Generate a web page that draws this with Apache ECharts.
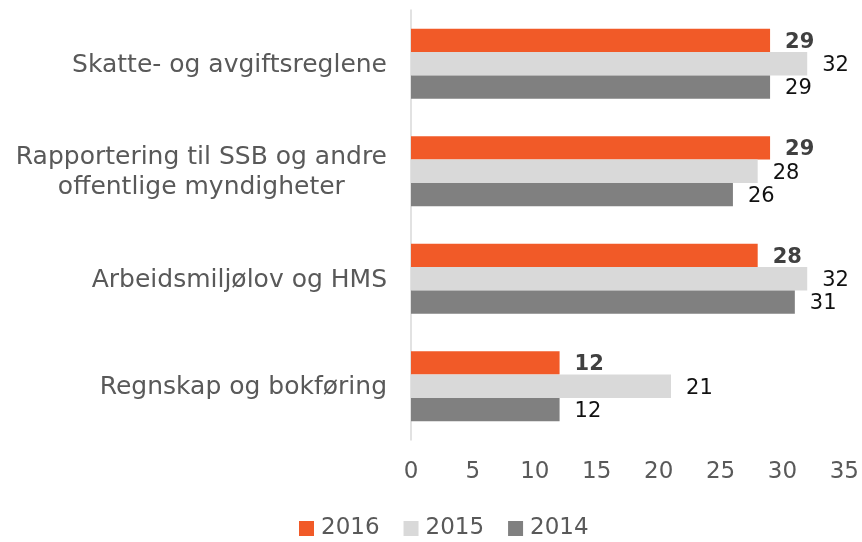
<!DOCTYPE html>
<html>
<head>
<meta charset="utf-8">
<script src="https://cdn.jsdelivr.net/npm/echarts@6/dist/echarts.min.js"></script>
<style>
  html, body { margin: 0; padding: 0; background: #fff; }
  #chart { width: 862px; height: 542px; }
</style>
</head>
<body>
<div id="chart"></div>
<script>
const categories = [
  "Skatte- og avgiftsreglene",
  "Rapportering til SSB og andre\noffentlige myndigheter",
  "Arbeidsmiljølov og HMS",
  "Regnskap og bokføring"
];
const values2016 = [29, 29, 28, 12];
const values2015 = [32, 28, 32, 21];
const values2014 = [29, 26, 31, 12];
const xTicks = { min: 0, max: 35, interval: 5 };

const font = "'DejaVu Sans', sans-serif";
const chart = echarts.init(document.getElementById("chart"));

function barSeries(name, data, color, bold) {
  return {
    name,
    type: "bar",
    data,
    barGap: "0%",
    barCategoryGap: "35%",
    itemStyle: { color },
    label: {
      show: true,
      position: "right",
      distance: 15,
      fontFamily: font,
      fontSize: 21,
      fontWeight: bold ? "bold" : "normal",
      color: bold ? "#404040" : "#111",
      offset: [0, 2]
    }
  };
}

chart.setOption({
  animation: false,
  backgroundColor: "#fff",
  textStyle: { fontFamily: font },
  grid: { left: 411, right: 16, top: 10, bottom: 102, containLabel: false },
  legend: {
    bottom: -3,
    left: 294,
    itemWidth: 15,
    itemHeight: 15,
    itemGap: 24,
    icon: "rect",
    textStyle: { fontFamily: font, fontSize: 23, color: "#595959", padding: [0, 0, 0, 2] },
    data: ["2016", "2015", "2014"]
  },
  xAxis: {
    type: "value",
    min: xTicks.min,
    max: xTicks.max,
    interval: xTicks.interval,
    axisLine: { show: false },
    axisTick: { show: false },
    splitLine: { show: false },
    axisLabel: { fontFamily: font, fontSize: 23, color: "#595959", margin: 21 }
  },
  yAxis: {
    type: "category",
    inverse: true,
    data: categories,
    axisLine: { show: true, lineStyle: { color: "#d9d9d9", width: 1.5 } },
    axisTick: { show: false },
    axisLabel: {
      fontFamily: font,
      fontSize: 25,
      color: "#595959",
      margin: 24,
      lineHeight: 30,
      formatter: (v) => v.split("\n").map((s) => "{c|" + s + "}").join("\n"),
      rich: { c: { align: "center", fontFamily: font, fontSize: 25, color: "#595959", lineHeight: 30, padding: [3, 0, 0, 0] } }
    }
  },
  series: [
    barSeries("2016", values2016, "#f15a28", true),
    barSeries("2015", values2015, "#d9d9d9", false),
    barSeries("2014", values2014, "#808080", false)
  ]
});
</script>
</body>
</html>
